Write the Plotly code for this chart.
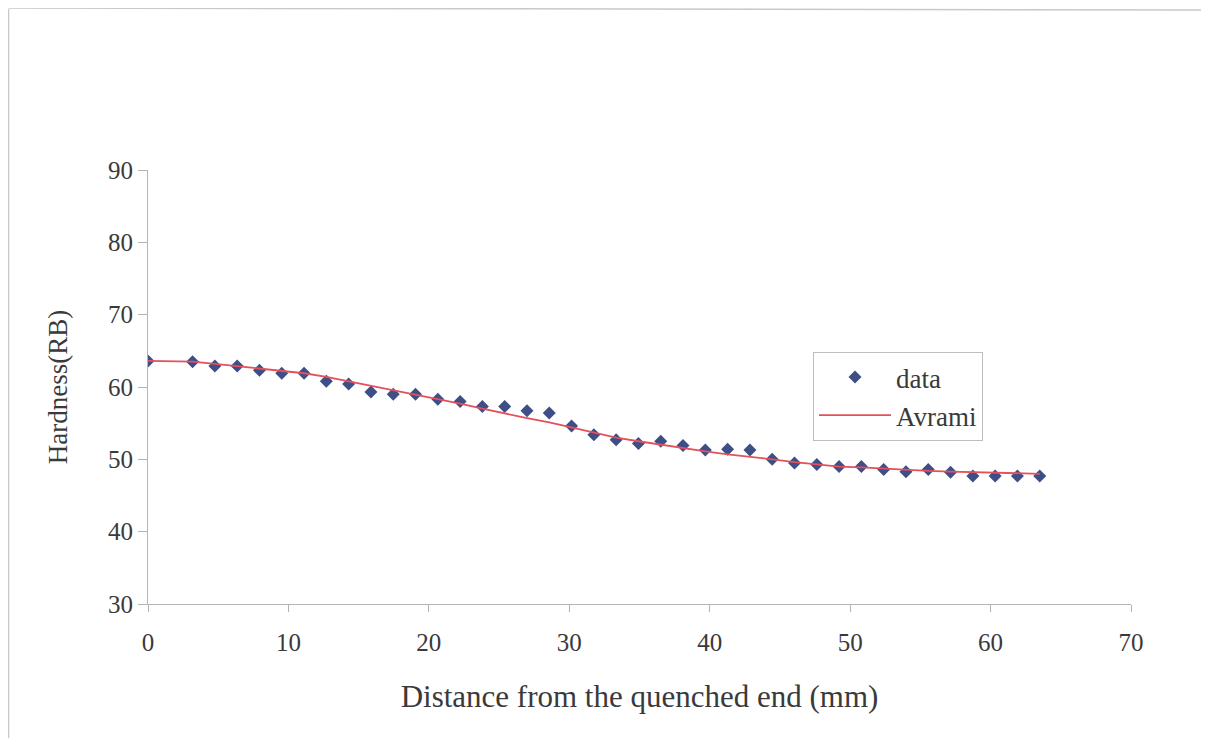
import plotly.graph_objects as go

# Jominy positions (n/16 inch, in mm)
distance_mm = [0.0, 3.175, 4.763, 6.35, 7.938, 9.525, 11.113, 12.7, 14.288, 15.875,
               17.463, 19.05, 20.638, 22.225, 23.813, 25.4, 26.988, 28.575, 30.163, 31.75,
               33.338, 34.925, 36.513, 38.1, 39.688, 41.275, 42.863, 44.45, 46.038, 47.625,
               49.213, 50.8, 52.388, 53.975, 55.563, 57.15, 58.738, 60.325, 61.913, 63.5]

hardness_data = [63.6, 63.5, 62.9, 62.9, 62.3, 61.9, 61.9, 60.8, 60.4, 59.3,
                 59.0, 59.0, 58.3, 58.0, 57.3, 57.3, 56.7, 56.4, 54.6, 53.4,
                 52.7, 52.2, 52.5, 51.9, 51.3, 51.4, 51.3, 50.0, 49.5, 49.3,
                 49.0, 49.0, 48.6, 48.3, 48.6, 48.2, 47.7, 47.7, 47.7, 47.7]

hardness_avrami = [63.6, 63.5, 63.2, 62.9, 62.6, 62.3, 61.9, 61.4, 60.8, 60.2,
                   59.5, 59.0, 58.4, 57.7, 57.0, 56.3, 55.7, 55.1, 54.4, 53.8,
                   53.0, 52.5, 52.0, 51.5, 51.1, 50.7, 50.4, 50.0, 49.6, 49.3,
                   49.0, 48.9, 48.7, 48.5, 48.4, 48.3, 48.2, 48.1, 48.1, 48.0]

x_ticks = [0, 10, 20, 30, 40, 50, 60, 70]
y_ticks = [30, 40, 50, 60, 70, 80, 90]

OFF = 8  # page body margin
W, H = 1193, 730
L, R, T, B = 140, 70, 162, 134
pw, ph = W - L - R, H - T - B

def px(x):
    return (x - OFF - L) / pw

def py(y):
    return (H - B - (y - OFF)) / ph

font_family = "Liberation Serif, Times New Roman, serif"
text_color = "#3a3a3a"
axis_color = "#b4b4b4"

fig = go.Figure()
fig.add_trace(go.Scatter(
    x=distance_mm, y=hardness_data, mode="markers", name="data",
    marker=dict(symbol="diamond", size=10, color="#3d4f86"),
))
fig.add_trace(go.Scatter(
    x=distance_mm, y=hardness_avrami, mode="lines", name="Avrami",
    line=dict(color="#e4505c", width=1.8),
))

border = "#c8c8c8"
shapes = [
    dict(type="line", xref="paper", yref="paper", x0=px(8.5), x1=px(8.5), y0=py(9), y1=py(746), line=dict(color=border, width=1.5)),
    dict(type="line", xref="paper", yref="paper", x0=px(8.5), x1=px(1201), y0=py(8), y1=py(10), line=dict(color=border, width=1.5)),
]

fig.update_layout(
    width=W, height=H,
    margin=dict(l=L, r=R, t=T, b=B, pad=0),
    paper_bgcolor="white", plot_bgcolor="white",
    font=dict(family=font_family, size=25, color=text_color),
    showlegend=True,
    legend=dict(
        x=px(813), y=py(352), xanchor="left", yanchor="top",
        bgcolor="white", bordercolor="#bdbdbd", borderwidth=1,
        font=dict(family=font_family, size=27, color=text_color),
        itemwidth=72,
    ),
    shapes=shapes,
    xaxis=dict(
        range=[0, 70], tickvals=x_ticks, ticktext=[str(v) for v in x_ticks],
        showgrid=False, zeroline=False, showline=True, linecolor=axis_color, linewidth=1,
        ticks="outside", ticklen=7, tickcolor=axis_color, ticklabelstandoff=9,
        tickfont=dict(family=font_family, size=25, color=text_color),
        title=dict(text="Distance from the quenched end (mm)", standoff=30,
                   font=dict(family=font_family, size=31, color=text_color)),
    ),
    yaxis=dict(
        range=[30, 90], tickvals=y_ticks, ticktext=[str(v) for v in y_ticks],
        showgrid=False, zeroline=False, showline=True, linecolor=axis_color, linewidth=1,
        ticks="outside", ticklen=9, tickcolor=axis_color,
        tickfont=dict(family=font_family, size=25, color=text_color),
        title=dict(text="Hardness(RB)", standoff=32,
                   font=dict(family=font_family, size=27, color=text_color)),
    ),
)

fig.write_html("out.html")
